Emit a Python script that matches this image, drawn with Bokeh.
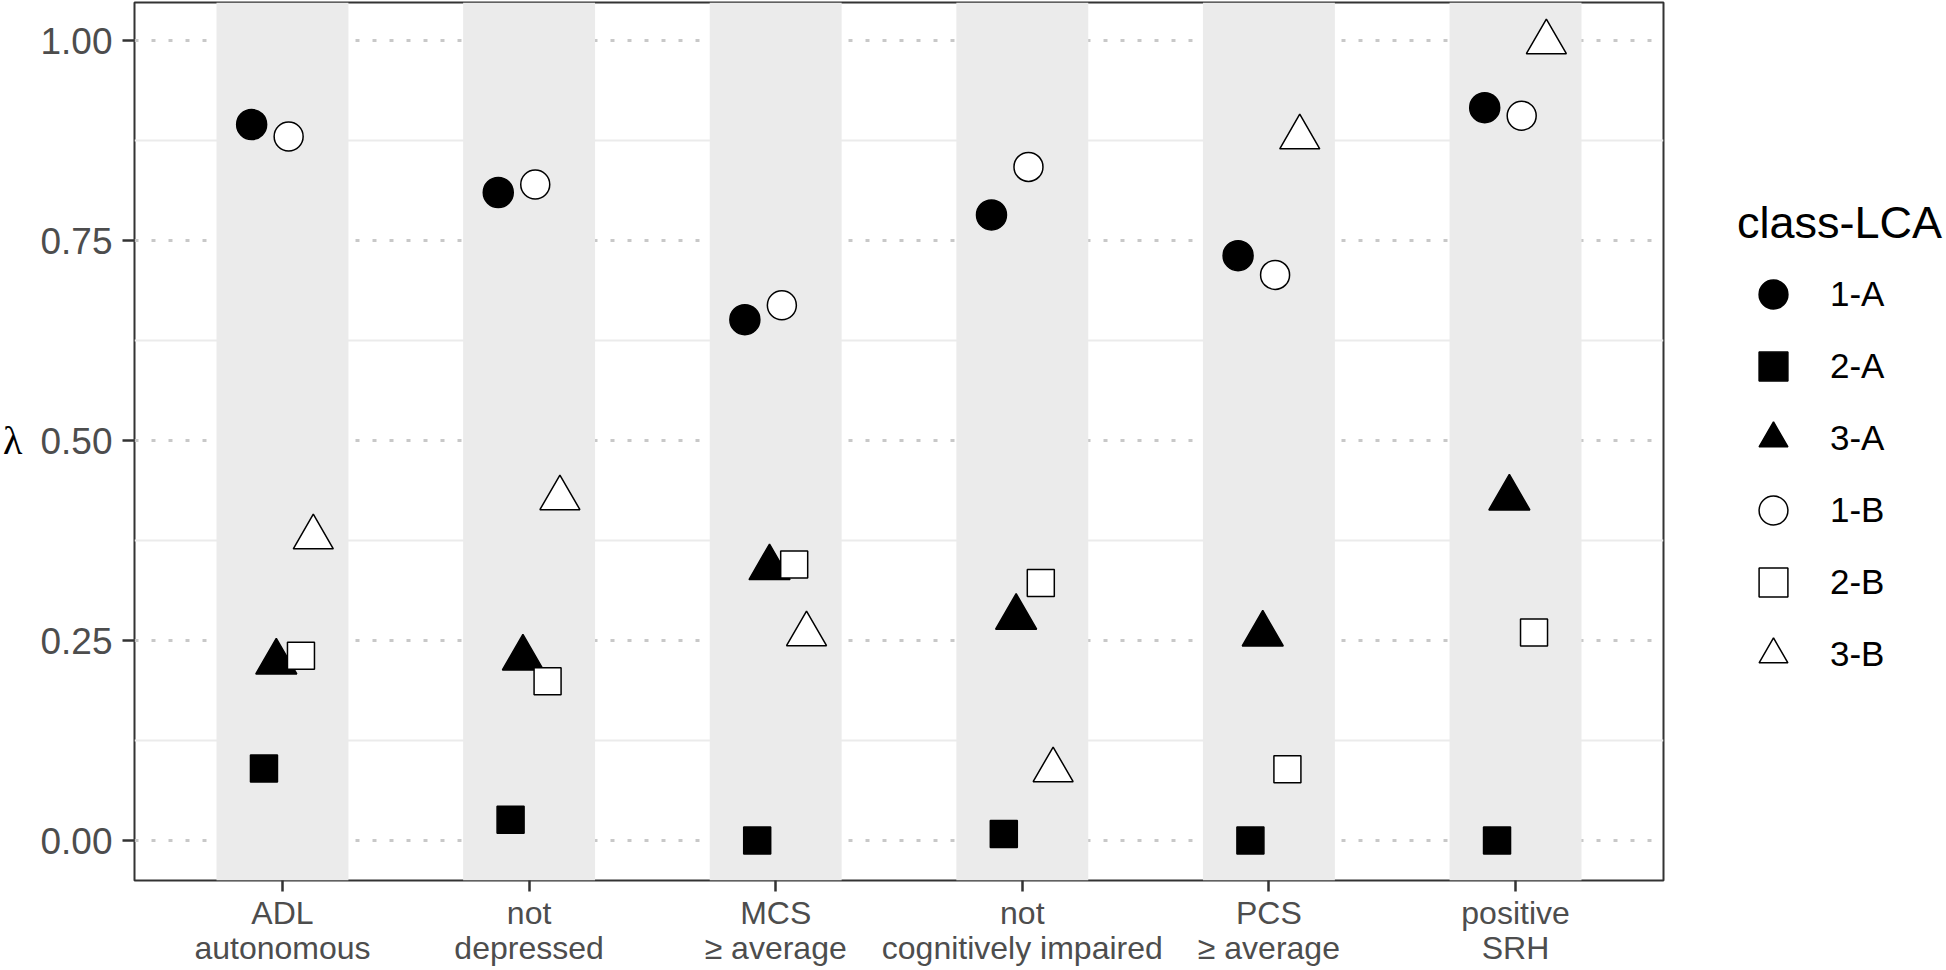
import numpy as np
from bokeh.plotting import figure
from bokeh.layouts import row
from bokeh.models import (FactorRange, Range1d, FixedTicker, Legend, LegendItem,
                          LinearAxis, ColumnDataSource)
from bokeh.transform import dodge
from bokeh.embed import file_html
from bokeh.resources import INLINE

# ---------------- data ----------------
categories = ["ADL\nautonomous", "not\ndepressed", "MCS\n\u2265 average",
              "not\ncognitively impaired", "PCS\n\u2265 average", "positive\nSRH"]
classes = ["1-A", "2-A", "3-A", "1-B", "2-B", "3-B"]

lambda_1A = [0.895, 0.810, 0.651, 0.782, 0.731, 0.916]
lambda_2A = [0.090, 0.026, 0.000, 0.008, 0.000, 0.000]
lambda_3A = [0.223, 0.228, 0.341, 0.279, 0.258, 0.428]
lambda_1B = [0.880, 0.820, 0.669, 0.842, 0.707, 0.906]
lambda_2B = [0.231, 0.199, 0.345, 0.322, 0.089, 0.260]
lambda_3B = [0.379, 0.428, 0.258, 0.088, 0.879, 0.998]

y_ticks = [0.0, 0.25, 0.5, 0.75, 1.0]
y_tick_labels = ["0.00", "0.25", "0.50", "0.75", "1.00"]
y_minor_ticks = [0.125, 0.375, 0.625, 0.875]
y_title = "\u03bb"
legend_title = "class-LCA"

series = [lambda_1A, lambda_2A, lambda_3A, lambda_1B, lambda_2B, lambda_3B]
markers = ["circle", "square", "triangle", "circle", "square", "triangle"]
fills = ["black", "black", "black", "white", "white", "white"]
sizes = [30, 27, 41, 29, 27, 40]

FONT = "Liberation Sans"

p = figure(x_range=FactorRange(*categories, range_padding=0.1,
                               range_padding_units="absolute"),
           y_range=Range1d(-0.05, 1.0475),
           width=1665, height=970, output_backend="svg", toolbar_location=None,
           min_border_left=132, min_border_right=2, min_border_top=2,
           min_border_bottom=90)

p.background_fill_color = "white"
p.border_fill_color = "white"
p.outline_line_color = "#333333"
p.outline_line_width = 2

# grid
p.xgrid.grid_line_color = None
p.yaxis.ticker = FixedTicker(ticks=y_ticks, minor_ticks=y_minor_ticks)
p.yaxis.major_label_overrides = {t: l for t, l in zip(y_ticks, y_tick_labels)}
p.ygrid.grid_line_color = "#c8c8c8"
p.ygrid.grid_line_dash = "4 13"
p.ygrid.grid_line_width = 3
p.ygrid.minor_grid_line_color = "#ebebeb"
p.ygrid.minor_grid_line_width = 2

# background bands per category
p.vbar(x=categories, width=0.535, bottom=-1, top=2,
       fill_color="#ebebeb", line_color=None)

# points
for i, (name, vals, mk, fc, sz) in enumerate(zip(classes, series, markers, fills, sizes)):
    src = ColumnDataSource(dict(cat=categories, val=vals))
    off = (i - 2.5) * 0.05
    p.scatter(x=dodge("cat", off, range=p.x_range), y="val", source=src,
              marker=mk, size=sz, fill_color=fc, line_color="black",
              line_width=1.5)

# axes
for ax in (p.xaxis, p.yaxis):
    ax.axis_line_color = None
    ax.major_tick_line_color = "#333333"
    ax.major_tick_line_width = 2.5
    ax.major_tick_in = 0
    ax.minor_tick_line_color = None
    ax.major_label_text_color = "#4d4d4d"
    ax.major_label_text_font = FONT

p.yaxis.major_tick_out = 12
p.yaxis.major_label_text_font_size = "37px"
p.yaxis.major_label_standoff = 10
p.xaxis.major_tick_out = 11
p.xaxis.major_label_text_font_size = "32px"
p.xaxis.major_label_standoff = 3
p.xaxis.major_label_text_line_height = 0.98

# y-axis title "λ" (horizontal), drawn as an outer axis label
lam_axis = LinearAxis(ticker=FixedTicker(ticks=[0.5]),
                      major_label_overrides={0.5: y_title},
                      axis_line_color=None, major_tick_line_color=None,
                      minor_tick_line_color=None, major_tick_out=0, major_tick_in=0,
                      minor_tick_out=0, minor_tick_in=0,
                      major_label_text_font="Liberation Serif",
                      major_label_text_font_size="40px",
                      major_label_text_color="black",
                      major_label_standoff=15)
p.add_layout(lam_axis, "left")

# ---------------- legend panel (to the right of the plot) ----------------
pl = figure(width=281, height=970, x_range=Range1d(0, 1), y_range=Range1d(0, 1),
            output_backend="svg", toolbar_location=None, min_border=0)
pl.outline_line_color = None
pl.axis.visible = False
pl.grid.visible = False
pl.background_fill_color = "white"
pl.border_fill_color = "white"

items = []
for name, mk, fc, sz in zip(classes, markers, fills, sizes):
    # key-only renderer: one undefined (NaN) point, so nothing is drawn in the panel
    r = pl.scatter(x=np.array([np.nan]), y=np.array([np.nan]), marker=mk, size=sz,
                   fill_color=fc, line_color="black", line_width=1.5)
    items.append(LegendItem(label=name, renderers=[r]))

legend = Legend(items=items, title=legend_title, location=(72, 190))
legend.title_text_font = FONT
legend.title_text_font_size = "45px"
legend.title_text_font_style = "normal"
legend.title_text_color = "black"
legend.title_standoff = 9
legend.label_text_font = FONT
legend.label_text_font_size = "35px"
legend.label_text_color = "black"
legend.glyph_width = 72
legend.glyph_height = 72
legend.label_height = 72
legend.spacing = 0
legend.label_standoff = 21
legend.padding = 0
legend.margin = 0
legend.border_line_color = None
legend.background_fill_alpha = 0
pl.add_layout(legend, "center")

layout = row(p, pl, spacing=0)
open("out.html", "w").write(file_html(layout, INLINE))
